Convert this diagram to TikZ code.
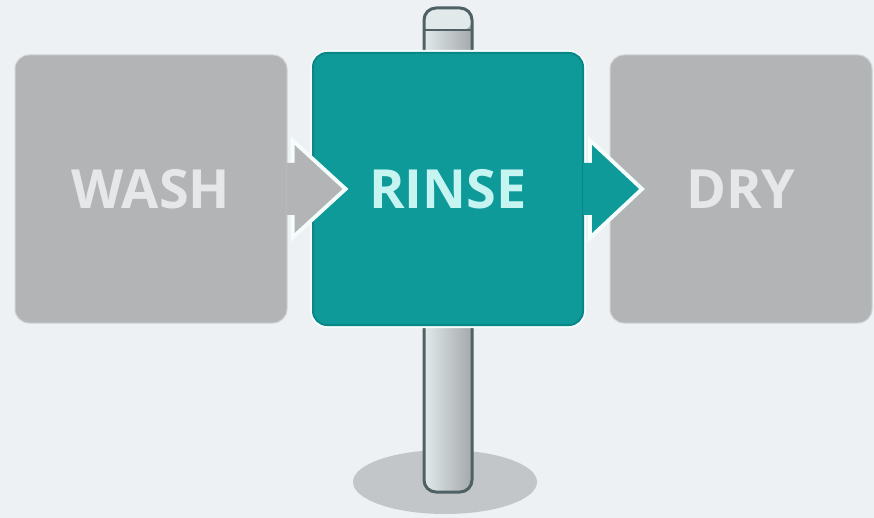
\documentclass[tikz,border=0pt]{standalone}
\usepackage{fontspec}
\setmainfont{Open Sans}
\usetikzlibrary{shapes.geometric}
\begin{document}
\begin{tikzpicture}[x=1pt,y=-1pt]
\definecolor{bg}{HTML}{EEF1F4}
\definecolor{boxgray}{HTML}{B3B4B6}
\definecolor{tealbox}{HTML}{0F9A9A}
\definecolor{tealedge}{HTML}{0B8686}
\definecolor{graytext}{HTML}{E6E7E8}
\definecolor{tealtext}{HTML}{C6F4F1}
\definecolor{poleedge}{HTML}{4F6164}
\definecolor{polelight}{HTML}{E2E9EA}
\definecolor{poledark}{HTML}{A3A9AC}
\definecolor{shadowc}{HTML}{C3C6C8}
\definecolor{halo}{HTML}{F4FCFC}
\tikzset{
  stagebox/.style={rounded corners=14pt, minimum width=#1, minimum height=268pt,
    inner sep=0pt, font=\fontsize{54}{60}\selectfont\bfseries},
  graystage/.style={stagebox=#1, fill=boxgray, text=graytext, draw=white!40!boxgray, line width=1pt},
  tealstage/.style={stagebox=270pt, minimum height=272pt, fill=tealbox, text=tealtext,
    draw=tealedge, line width=2pt},
  grayarrow/.style={fill=boxgray},
  tealarrow/.style={fill=tealbox},
  arrowhalo/.style={draw=halo, line width=8pt, line join=miter},
}
\useasboundingbox (0,0) rectangle (874,518);
\fill[bg] (0,0) rectangle (874,518);
% ground shadow
\node[ellipse, fill=shadowc, minimum width=184pt, minimum height=64pt, inner sep=0pt] (ground) at (445,482) {};
% pole
\shade[left color=polelight, right color=poledark, rounded corners=12pt]
  (424,492) rectangle (472,8);
\fill[polelight, rounded corners=10pt] (424,30) -- (424,8) -- (472,8) -- (472,30) -- cycle;
\draw[poleedge, line width=2.5pt] (424,30) -- (472,30);
\draw[poleedge, line width=3pt, rounded corners=12pt] (424,492) rectangle (472,8);
\coordinate (poletop) at (448,8);
% boxes
\node[graystage=272pt] (wash) at (151,189) {WASH};
\node[graystage=262pt] (dry) at (741,189) {DRY};
\draw[halo, line width=6pt, rounded corners=15pt] (313,53) rectangle (583,325);
\node[tealstage] (rinse) at (448,189) {RINSE};
% arrow wash -> rinse
\draw[arrowhalo] ([shift={(7,-26)}]wash.east) -- ([shift={(7,-44)}]wash.east)
  -- ([shift={(55,0)}]wash.east) -- ([shift={(7,44)}]wash.east) -- ([shift={(7,26)}]wash.east);
\fill[grayarrow] ([shift={(-1,-26)}]wash.east) -- ([shift={(7,-26)}]wash.east) -- ([shift={(7,-44)}]wash.east)
  -- ([shift={(55,0)}]wash.east) -- ([shift={(7,44)}]wash.east) -- ([shift={(7,26)}]wash.east)
  -- ([shift={(-1,26)}]wash.east) -- cycle;
% arrow rinse -> dry
\draw[arrowhalo] ([shift={(8,-26)}]rinse.east) -- ([shift={(8,-44)}]rinse.east)
  -- ([shift={(55,0)}]rinse.east) -- ([shift={(8,44)}]rinse.east) -- ([shift={(8,26)}]rinse.east);
\fill[tealarrow] ([shift={(-1,-26)}]rinse.east) -- ([shift={(8,-26)}]rinse.east) -- ([shift={(8,-44)}]rinse.east)
  -- ([shift={(55,0)}]rinse.east) -- ([shift={(8,44)}]rinse.east) -- ([shift={(8,26)}]rinse.east)
  -- ([shift={(-1,26)}]rinse.east) -- cycle;
\end{tikzpicture}
\end{document}
